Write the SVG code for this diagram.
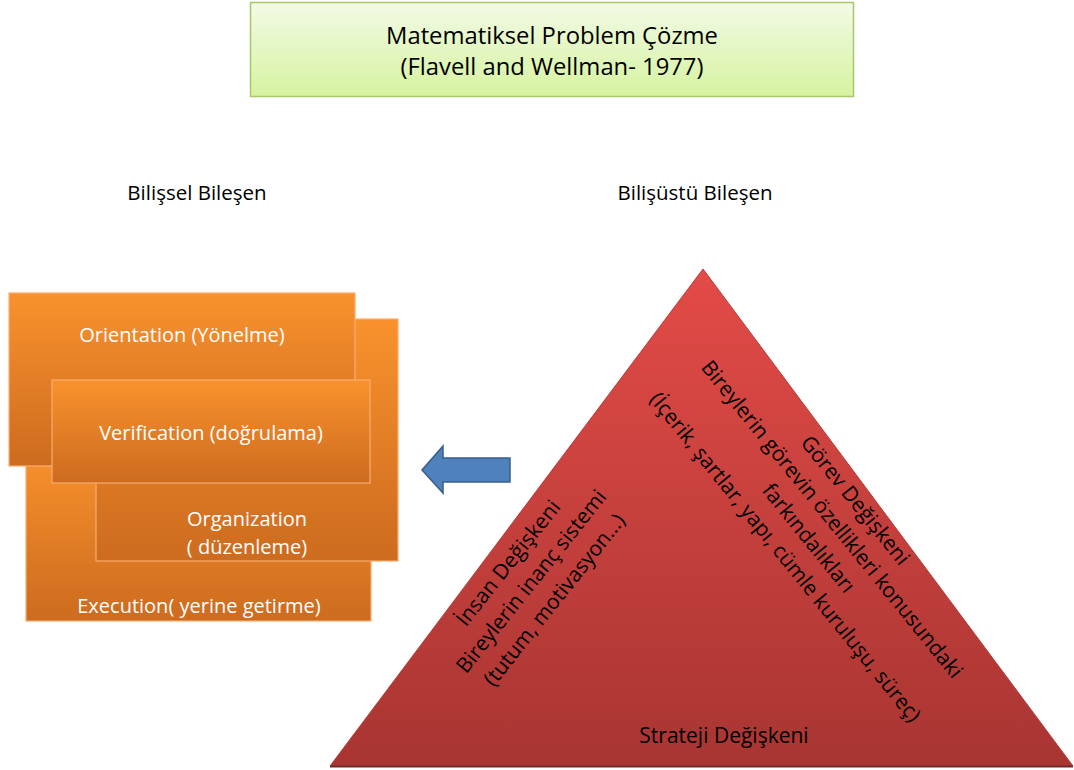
<svg xmlns="http://www.w3.org/2000/svg" width="1074" height="770" viewBox="0 0 1074 770">
  <defs>
    <linearGradient id="gGreen" x1="0" y1="0" x2="0" y2="1">
      <stop offset="0" stop-color="#f2fae6"/>
      <stop offset="1" stop-color="#d6f39f"/>
    </linearGradient>
    <linearGradient id="gOrange" x1="0" y1="0" x2="0" y2="1">
      <stop offset="0" stop-color="#f9922d"/>
      <stop offset="1" stop-color="#cd6b1f"/>
    </linearGradient>
    <linearGradient id="gRed" x1="0" y1="0" x2="0" y2="1">
      <stop offset="0" stop-color="#e34b47"/>
      <stop offset="1" stop-color="#a83532"/>
    </linearGradient>
    <style>
      .t { font-family: "Open Sans", "Liberation Sans", sans-serif; }
      .box { fill: url(#gOrange); stroke: #f8ad70; stroke-width: 1.2; }
      .wt { fill: #ffffff; font-size: 20px; text-anchor: middle; }
      .bt { fill: #000000; font-size: 21px; text-anchor: middle; }
      .lbl { fill: #000000; font-size: 20.5px; text-anchor: middle; }
    </style>
  </defs>

  <g id="title">
    <rect x="250.5" y="2.5" width="603" height="94" fill="url(#gGreen)" stroke="#a7c76c" stroke-width="1.5"/>
    <text class="t" x="552" y="44" font-size="23.8" text-anchor="middle" fill="#000">Matematiksel Problem Çözme</text>
    <text class="t" x="552" y="75" font-size="23.8" text-anchor="middle" fill="#000">(Flavell and Wellman- 1977)</text>
  </g>

  <g id="label-bilissel">
    <text class="t lbl" x="197" y="200">Bilişsel Bileşen</text>
  </g>
  <g id="label-bilisustu">
    <text class="t lbl" x="695" y="200">Bilişüstü Bileşen</text>
  </g>

  <g id="execution">
    <rect class="box" x="26" y="447" width="345" height="174"/>
    <text class="t wt" x="199" y="613">Execution( yerine getirme)</text>
  </g>
  <g id="organization">
    <rect class="box" x="96" y="319" width="302" height="242"/>
    <text class="t wt" x="247" y="526">Organization</text>
    <text class="t wt" x="247" y="554">( düzenleme)</text>
  </g>
  <g id="orientation">
    <rect class="box" x="9" y="293" width="346" height="173"/>
    <text class="t wt" x="182" y="342">Orientation (Yönelme)</text>
  </g>
  <g id="verification">
    <rect class="box" x="52" y="380" width="318" height="103"/>
    <text class="t wt" x="211" y="440">Verification (doğrulama)</text>
  </g>

  <g id="connectors">
    <polygon points="422,470 443,446 443,458 510,458 510,482 443,482 443,493" fill="#4f81bd" stroke="#385d8a" stroke-width="1.5" stroke-linejoin="miter"/>
  </g>

  <g id="triangle">
    <polygon points="703,269 1073,766 330,766" fill="url(#gRed)" stroke="#b53a36" stroke-width="1"/>
    <line x1="330" y1="766.5" x2="1073" y2="766.5" stroke="#6e2b2b" stroke-width="2"/>
    <g transform="translate(820.25,528.75) rotate(51)">
      <text class="t bt" x="0" y="-38">Görev  Değişkeni</text>
      <text class="t bt" x="0" y="-8">Bireylerin görevin özellikleri konusundaki</text>
      <text class="t bt" x="0" y="22">farkındalıkları</text>
      <text class="t bt" x="0" y="52">(İçerik, şartlar, yapı, cümle kuruluşu, süreç)</text>
    </g>
    <g transform="translate(531.3,581.5) rotate(-51.5)">
      <text class="t bt" x="0" y="-22.5">İnsan Değişkeni</text>
      <text class="t bt" x="0" y="7">Bireylerin inanç sistemi</text>
      <text class="t bt" x="0" y="36.5">(tutum, motivasyon…)</text>
    </g>
    <text class="t bt" x="724" y="743">Strateji Değişkeni</text>
  </g>
</svg>
